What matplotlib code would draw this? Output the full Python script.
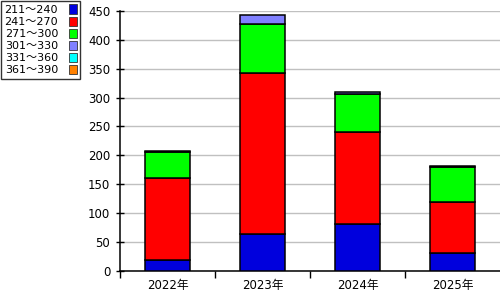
import matplotlib.pyplot as plt
from matplotlib.patches import Patch
import numpy as np

plt.rcParams['font.family'] = ['DejaVu Sans', 'Noto Sans CJK JP']

years = ['2022年', '2023年', '2024年', '2025年']
ranges = ['211～240', '241～270', '271～300', '301～330', '331～360', '361～390']
colors = ['#0000dd', '#ff0000', '#00ff00', '#8080ff', '#00ffff', '#ff8000']

s211 = [18, 63, 80, 30]
s241 = [142, 279, 161, 89]
s271 = [45, 86, 65, 60]
s301 = [3, 15, 3, 3]
s331 = [0, 0, 0, 0]
s361 = [0, 0, 0, 0]
series = [s211, s241, s271, s301, s331, s361]

fig = plt.figure(figsize=(5, 3), dpi=100)
ax = fig.add_axes([0.24, 0.098, 0.76, 0.865])

x = np.arange(len(years))
bottom = np.zeros(len(years))
for vals, c in zip(series, colors):
    vals = np.array(vals, dtype=float)
    if vals.sum() > 0:
        ax.bar(x, vals, 0.47, bottom=bottom, color=c, edgecolor='black',
               linewidth=1.1, zorder=3)
    bottom += vals

ax.set_xlim(-0.5, 3.5)
ax.set_ylim(0, 450)
ax.set_yticks(range(0, 451, 50))
ax.yaxis.grid(True, color='#c0c0c0', linewidth=1, zorder=0)
ax.set_xticks(x)
ax.set_xticklabels(years)
ax.set_xticks([-0.5, 0.5, 1.5, 2.5], minor=True)
ax.tick_params(axis='x', which='major', length=0, labelsize=8.5, pad=6)
ax.tick_params(axis='x', which='minor', length=5, direction='out', width=1)
ax.tick_params(axis='y', length=6, direction='inout', width=1, labelsize=8.5, pad=4)
for s in ['top', 'right']:
    ax.spines[s].set_visible(False)
for s in ['left', 'bottom']:
    ax.spines[s].set_linewidth(1.1)

handles = [Patch(facecolor=c, edgecolor='#333333', linewidth=0.6) for c in colors]
leg = fig.legend(handles, ranges, loc='upper left', bbox_to_anchor=(0.0, 1.0),
                 markerfirst=False, fontsize=8, frameon=True, fancybox=False,
                 handlelength=0.7, handleheight=0.9, handletextpad=1.0,
                 labelspacing=0.15, borderpad=0.3, borderaxespad=0.1)
leg.get_frame().set_edgecolor('black')
leg.get_frame().set_linewidth(1)

fig.savefig('out.png', dpi=100)
